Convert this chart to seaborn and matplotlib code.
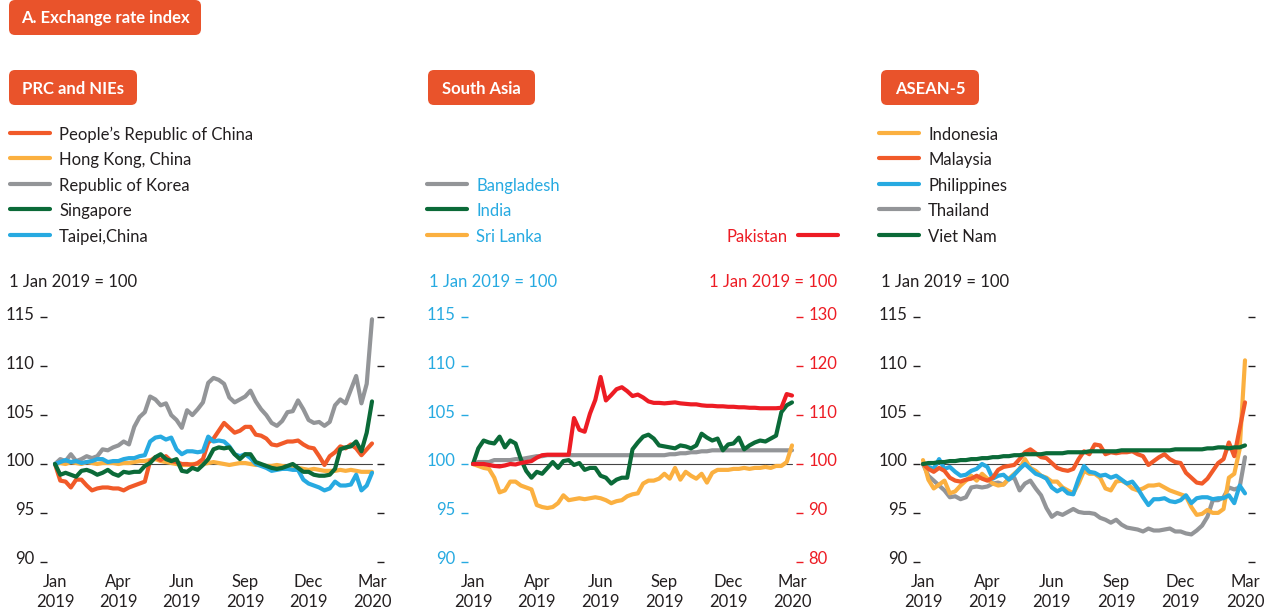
import numpy as np
import pandas as pd
import seaborn as sns

import matplotlib
matplotlib.use('Agg')
import matplotlib.pyplot as plt
from matplotlib.lines import Line2D
from matplotlib.patches import FancyBboxPatch
from matplotlib.transforms import ScaledTranslation

# x axis labels (evenly spaced, 12 observations apart)
tick_labels = ["Jan\n2019", "Apr\n2019", "Jun\n2019", "Sep\n2019", "Dec\n2019", "Mar\n2020"]

# PRC and NIEs, 1 Jan 2019 = 100
prc = [100.0, 98.3, 98.2, 97.6, 98.4, 98.4, 97.8, 97.3, 97.5, 97.6, 97.6, 97.5,
       97.5, 97.3, 97.6, 97.8, 98.0, 98.2, 100.3, 100.7, 100.4, 100.8, 100.3, 100.2,
       100.0, 100.0, 99.9, 100.1, 100.5, 102.2, 102.6, 103.4, 104.2, 103.7, 103.2, 103.4,
       103.8, 103.8, 103.0, 102.9, 102.6, 102.0, 101.9, 102.1, 102.3, 102.3, 102.4, 102.0,
       101.7, 101.6, 100.8, 99.9, 100.8, 101.2, 101.8, 101.6, 102.0, 101.6, 100.9, 101.5, 102.1]
hong_kong = [100.0, 100.1, 100.0, 100.2, 100.1, 100.0, 100.2, 100.1, 100.0, 100.1, 100.1, 100.1,
             100.0, 100.1, 100.1, 100.2, 100.3, 100.3, 100.4, 100.5, 100.3, 100.2, 100.1, 100.0,
             99.9, 99.9, 100.0, 100.0, 100.0, 100.1, 100.2, 100.1, 100.0, 99.9, 100.0, 100.1,
             100.1, 100.0, 99.9, 99.9, 99.8, 99.8, 99.9, 99.8, 99.7, 99.6, 99.6, 99.5,
             99.4, 99.5, 99.4, 99.3, 99.3, 99.3, 99.4, 99.3, 99.4, 99.3, 99.2, 99.2, 99.2]
korea = [100.0, 100.5, 100.3, 101.0, 100.3, 100.5, 100.8, 100.6, 100.8, 101.5, 101.4, 101.7,
         101.9, 102.3, 102.0, 103.8, 104.8, 105.3, 106.9, 106.6, 106.0, 106.2, 105.0, 104.5,
         103.7, 105.5, 105.0, 105.6, 106.3, 108.3, 108.8, 108.6, 108.2, 106.8, 106.3, 106.6,
         106.9, 107.5, 106.4, 105.6, 105.0, 104.2, 103.9, 104.4, 105.3, 105.4, 106.5, 105.6,
         104.5, 104.2, 104.3, 103.9, 104.3, 106.0, 106.6, 106.2, 107.6, 109.0, 106.2, 108.2, 114.8]
singapore = [100.0, 98.9, 99.1, 98.9, 98.7, 99.3, 99.4, 99.2, 98.9, 99.1, 99.4, 99.0,
             98.8, 99.2, 99.1, 99.2, 99.2, 99.8, 100.1, 100.7, 101.0, 100.5, 100.3, 100.5,
             99.3, 99.2, 99.6, 99.4, 99.9, 100.5, 101.5, 101.7, 101.6, 101.7, 101.0, 100.5,
             101.0, 101.0, 100.2, 100.0, 99.8, 99.6, 99.5, 99.6, 99.8, 100.0, 99.6, 99.2,
             99.2, 98.9, 98.8, 98.8, 98.9, 99.5, 101.5, 101.7, 101.8, 102.3, 101.3, 103.2, 106.4]
taipei = [100.0, 100.2, 100.4, 100.2, 100.3, 100.1, 100.2, 100.3, 100.5, 100.5, 100.2, 100.3,
          100.3, 100.5, 100.6, 100.6, 100.8, 100.9, 102.3, 102.7, 102.8, 102.5, 102.7, 101.5,
          101.0, 101.3, 101.3, 101.2, 101.3, 102.8, 102.3, 102.4, 102.3, 101.8, 101.0, 100.8,
          101.0, 100.6, 100.0, 99.8, 99.6, 99.3, 99.4, 99.5, 99.5, 99.4, 99.4, 98.4,
          98.0, 97.8, 97.6, 97.3, 97.5, 98.2, 97.8, 97.8, 97.9, 98.9, 97.3, 97.8, 99.1]

# South Asia (Pakistan on the right axis)
bangladesh = [100.0, 100.2, 100.2, 100.2, 100.4, 100.4, 100.4, 100.4, 100.5, 100.5, 100.6, 100.7,
              100.8, 100.8, 100.9, 100.9, 100.9, 100.9, 100.9, 100.9, 100.9, 100.9, 100.9, 100.9,
              100.9, 100.9, 100.9, 100.9, 100.9, 100.9, 100.9, 100.9, 100.9, 100.9, 100.9, 100.9,
              100.9, 101.0, 101.0, 101.1, 101.1, 101.2, 101.2, 101.3, 101.3, 101.4, 101.4, 101.4,
              101.4, 101.4, 101.4, 101.4, 101.4, 101.4, 101.4, 101.4, 101.4, 101.4, 101.4, 101.4, 101.4]
india = [100.0, 101.6, 102.4, 102.2, 102.1, 102.8, 101.7, 102.4, 102.1, 100.5, 99.3, 98.6,
         99.2, 99.0, 99.6, 100.2, 99.6, 100.3, 100.4, 99.9, 100.1, 99.4, 99.6, 99.6,
         98.8, 98.6, 98.0, 98.4, 98.6, 98.6, 101.5, 102.2, 102.8, 103.0, 102.6, 101.9,
         101.8, 101.7, 101.6, 101.9, 101.8, 101.6, 101.9, 103.1, 102.7, 102.4, 102.6, 101.4,
         102.0, 102.1, 102.7, 101.5, 101.9, 102.2, 102.4, 102.3, 102.6, 102.9, 105.3, 106.0, 106.3]
sri_lanka = [100.0, 99.8, 99.6, 99.5, 98.6, 97.1, 97.3, 98.2, 98.2, 97.8, 97.6, 97.4,
             95.8, 95.6, 95.5, 95.6, 96.0, 96.8, 96.3, 96.4, 96.5, 96.4, 96.5, 96.6,
             96.5, 96.3, 96.0, 96.2, 96.3, 96.7, 96.9, 97.0, 98.0, 98.3, 98.3, 98.5,
             99.0, 98.5, 99.6, 98.4, 99.2, 98.8, 98.5, 99.0, 98.1, 99.1, 99.4, 99.4,
             99.4, 99.5, 99.5, 99.6, 99.5, 99.6, 99.6, 99.7, 99.6, 99.8, 99.8, 100.2, 101.9]
pakistan = [100.0, 100.0, 100.0, 99.8, 99.6, 99.5, 99.7, 100.0, 99.9, 100.2, 100.4, 100.6,
            101.3, 101.8, 101.9, 101.9, 101.9, 101.9, 101.9, 109.4, 107.0, 106.6, 110.3, 113.1,
            117.8, 113.0, 114.1, 115.3, 115.7, 114.9, 113.9, 114.2, 113.6, 112.8, 112.5, 112.5,
            112.4, 112.5, 112.6, 112.4, 112.3, 112.2, 112.2, 112.0, 111.9, 111.9, 111.8, 111.8,
            111.7, 111.7, 111.6, 111.6, 111.5, 111.5, 111.4, 111.4, 111.4, 111.4, 111.5, 114.3, 114.0]

# ASEAN-5
indonesia = [100.4, 98.4, 97.5, 97.9, 98.3, 97.0, 97.2, 97.8, 98.3, 98.8, 98.3, 99.0,
             98.5, 98.0, 97.8, 97.9, 98.5, 99.0, 99.5, 100.5, 99.6, 99.3, 98.8, 98.6,
             98.2, 98.2, 97.6, 97.3, 97.0, 98.0, 99.3, 99.0, 99.0, 98.6, 97.5, 97.3,
             98.2, 98.3, 98.0, 97.5, 97.3, 97.5, 97.8, 97.8, 97.9, 97.6, 97.3, 97.1,
             96.9, 96.7, 95.6, 94.8, 94.9, 95.3, 95.0, 95.0, 95.4, 98.6, 99.0, 101.5, 110.6]
malaysia = [100.0, 99.5, 99.2, 99.6, 99.3, 98.6, 98.3, 98.2, 98.4, 98.5, 98.8, 98.5,
            98.3, 98.6, 99.4, 99.7, 99.8, 99.9, 100.5, 101.2, 101.5, 101.1, 100.7, 100.6,
            100.1, 99.6, 99.4, 99.3, 99.5, 100.5, 101.3, 101.0, 102.0, 101.9, 101.0, 101.2,
            101.1, 101.2, 101.2, 101.3, 101.0, 100.8, 99.9, 100.3, 100.7, 101.0, 100.5, 100.2,
            100.1, 99.1, 98.6, 98.1, 98.0, 98.5, 99.3, 100.1, 100.5, 102.2, 100.8, 103.6, 106.3]
philippines = [100.0, 99.7, 99.5, 100.5, 99.5, 99.7, 99.2, 98.8, 98.9, 99.3, 99.5, 100.0,
               99.7, 98.5, 98.8, 98.9, 98.4, 98.9, 99.5, 100.0, 99.5, 99.0, 98.8, 98.5,
               97.6, 97.2, 97.5, 97.0, 96.9, 98.5, 99.8, 99.2, 99.1, 98.8, 98.9, 98.6,
               98.8, 98.4, 98.0, 98.2, 97.5, 96.6, 95.8, 96.4, 96.4, 96.5, 96.2, 96.1,
               96.3, 96.8, 96.0, 96.5, 96.6, 96.6, 96.4, 96.5, 96.5, 96.8, 96.0, 97.8, 97.0]
thailand = [100.0, 98.8, 98.3, 97.8, 97.3, 96.6, 96.7, 96.4, 96.6, 97.6, 97.7, 97.6,
            97.7, 98.0, 98.1, 97.9, 98.5, 98.6, 97.3, 98.0, 98.3, 97.5, 96.8, 95.5,
            94.6, 95.0, 94.8, 95.1, 95.4, 95.1, 95.0, 95.0, 94.9, 94.5, 94.3, 94.0,
            94.3, 93.8, 93.5, 93.4, 93.3, 93.1, 93.4, 93.2, 93.2, 93.3, 93.4, 93.1,
            93.1, 92.9, 92.8, 93.2, 93.7, 94.6, 96.3, 96.3, 96.6, 97.6, 97.4, 97.6, 100.7]
viet_nam = [100.0, 100.1, 100.1, 100.2, 100.2, 100.3, 100.3, 100.4, 100.4, 100.5, 100.5, 100.6,
            100.6, 100.7, 100.7, 100.8, 100.8, 100.9, 100.9, 101.0, 101.0, 101.0, 101.0, 101.1,
            101.1, 101.1, 101.1, 101.2, 101.2, 101.2, 101.2, 101.3, 101.3, 101.3, 101.3, 101.3,
            101.3, 101.4, 101.4, 101.4, 101.4, 101.4, 101.4, 101.4, 101.4, 101.4, 101.4, 101.5,
            101.5, 101.5, 101.5, 101.5, 101.5, 101.6, 101.6, 101.7, 101.7, 101.6, 101.7, 101.7, 101.9]

ORANGE_BOX = '#E9532B'
RED_OR = '#F15A29'
YELLOW = '#FBB040'
GREY = '#939598'
GREEN = '#0B6A38'
BLUE = '#27AAE1'
RED = '#ED1C24'
INK = '#231F20'

W, H = 1268, 614
sns.set_theme(style='white')
plt.rcParams['font.family'] = ['Lato', 'DejaVu Sans']
FS = 12
LW = 3.0

fig = plt.figure(figsize=(W / 100, H / 100), dpi=100)
t = np.arange(len(prc))


def fx(x):
    return x / W


def fy(y):
    return 1 - y / H


def long_df(series):
    df = pd.DataFrame(series)
    df['t'] = t
    return df.melt(id_vars='t', var_name='series', value_name='value')


def lift_labels(labels):
    # reference sets the value labels slightly above their tick marks
    shift = ScaledTranslation(0, 0.04, fig.dpi_scale_trans)
    for lab in labels:
        lab.set_transform(lab.get_transform() + shift)


def setup_ax(left, x0, x1, right, top=300, bottom=570, color=INK):
    ax = fig.add_axes([fx(left), fy(bottom), (right - left) / W, (bottom - top) / H])
    per = (x1 - x0) / 60
    ax.set_xlim(-(x0 - left) / per, 60 + (right - x1) / per)
    ax.set_ylim(100 - (bottom - 464) / 9.78, 100 + (464 - top) / 9.78)
    for s in ax.spines.values():
        s.set_visible(False)
    ax.set_yticks([90, 95, 100, 105, 110, 115])
    ax.tick_params(axis='y', direction='in', length=5, width=1, color=color,
                   labelcolor=color, labelsize=FS, pad=4, right=True, left=True)
    ax.set_xticks(range(0, 61, 12))
    ax.set_xticklabels(tick_labels)
    ax.tick_params(axis='x', length=0, labelsize=FS, labelcolor=INK, pad=3)
    for lab in ax.get_xticklabels():
        lab.set_linespacing(1.3)
    lift_labels(ax.get_yticklabels())
    ax.grid(False)
    ax.plot([0, 60], [100, 100], color='#444444', lw=0.8, zorder=1)
    return ax


def header(x0, y0, x1, y1, text):
    box = FancyBboxPatch((x0 / 100, (H - y1) / 100), (x1 - x0) / 100, (y1 - y0) / 100,
                         boxstyle='round,pad=0,rounding_size=0.06',
                         transform=fig.dpi_scale_trans, fc=ORANGE_BOX, ec='none')
    fig.patches.append(box)
    fig.text(fx((x0 + x1) / 2), fy((y0 + y1) / 2 + 1), text, color='white',
             fontsize=FS, fontweight='bold', ha='center', va='center')


def legend_item(x_line, y, text, color, text_color=INK, right=False):
    fig.lines.append(Line2D([fx(x_line), fx(x_line + 40)], [fy(y), fy(y)],
                            transform=fig.transFigure, color=color, lw=3,
                            solid_capstyle='round'))
    if right:
        fig.text(fx(x_line - 10), fy(y + 2), text, color=text_color, fontsize=FS,
                 ha='right', va='center')
    else:
        fig.text(fx(x_line + 49), fy(y + 2), text, color=text_color, fontsize=FS,
                 ha='left', va='center')


rows = [133, 158, 184, 209, 235]

# headers
header(9, 0, 201, 35, 'A. Exchange rate index')
header(9, 70, 137, 105, 'PRC and NIEs')
header(428, 70, 535, 105, 'South Asia')
header(881, 70, 979, 105, 'ASEAN-5')

# ---- Panel 1: PRC and NIEs
ax1 = setup_ax(40, 55, 372, 384)
p1 = {"Hong Kong, China": hong_kong, "People’s Republic of China": prc,
      "Republic of Korea": korea, "Taipei,China": taipei, "Singapore": singapore}
pal1 = {"People’s Republic of China": RED_OR, "Hong Kong, China": YELLOW,
        "Republic of Korea": GREY, "Singapore": GREEN, "Taipei,China": BLUE}
sns.lineplot(data=long_df(p1), x='t', y='value', hue='series', palette=pal1,
             linewidth=LW, legend=False, ax=ax1, zorder=3)
ax1.set_xlabel('')
ax1.set_ylabel('')
for name, y in zip(["People’s Republic of China", "Hong Kong, China", "Republic of Korea",
                    "Singapore", "Taipei,China"], rows):
    legend_item(10, y, name, pal1[name])
fig.text(fx(9), fy(282), '1 Jan 2019 = 100', color=INK, fontsize=FS, va='center')

# ---- Panel 2: South Asia
ax2 = setup_ax(461, 473, 792, 803, color=BLUE)
ax2.tick_params(axis='y', right=False)
p2 = {"Bangladesh": bangladesh, "Sri Lanka": sri_lanka, "India": india}
pal2 = {"Bangladesh": GREY, "India": GREEN, "Sri Lanka": YELLOW}
sns.lineplot(data=long_df(p2), x='t', y='value', hue='series', palette=pal2,
             linewidth=LW, legend=False, ax=ax2, zorder=3)
ax2.set_xlabel('')
ax2.set_ylabel('')
ax2r = ax2.twinx()
lo, hi = ax2.get_ylim()
ax2r.set_ylim(100 + 2 * (lo - 100), 100 + 2 * (hi - 100))
sns.lineplot(x=t, y=pakistan, color=RED, linewidth=LW, ax=ax2r)
for s in ax2r.spines.values():
    s.set_visible(False)
ax2r.set_yticks([80, 90, 100, 110, 120, 130])
ax2r.tick_params(axis='y', direction='in', length=5, width=1, color=RED,
                 labelcolor=RED, labelsize=FS, pad=4)
lift_labels(ax2r.get_yticklabels())
ax2r.grid(False)
ax2r.set_ylabel('')
for name, y in zip(["Bangladesh", "India", "Sri Lanka"], rows[2:]):
    legend_item(427, y, name, pal2[name], text_color=BLUE)
legend_item(798, rows[4], 'Pakistan', RED, text_color=RED, right=True)
fig.text(fx(429), fy(282), '1 Jan 2019 = 100', color=BLUE, fontsize=FS, va='center')
fig.text(fx(837), fy(282), '1 Jan 2019 = 100', color=RED, fontsize=FS, va='center',
         ha='right')

# ---- Panel 3: ASEAN-5
ax3 = setup_ax(913, 923, 1245, 1255)
p3 = {"Thailand": thailand, "Indonesia": indonesia, "Philippines": philippines,
      "Malaysia": malaysia, "Viet Nam": viet_nam}
pal3 = {"Indonesia": YELLOW, "Malaysia": RED_OR, "Philippines": BLUE,
        "Thailand": GREY, "Viet Nam": GREEN}
sns.lineplot(data=long_df(p3), x='t', y='value', hue='series', palette=pal3,
             linewidth=LW, legend=False, ax=ax3, zorder=3)
ax3.set_xlabel('')
ax3.set_ylabel('')
for name, y in zip(["Indonesia", "Malaysia", "Philippines", "Thailand", "Viet Nam"], rows):
    legend_item(879, y, name, pal3[name])
fig.text(fx(881), fy(282), '1 Jan 2019 = 100', color=INK, fontsize=FS, va='center')

fig.savefig('out.png', dpi=100)
